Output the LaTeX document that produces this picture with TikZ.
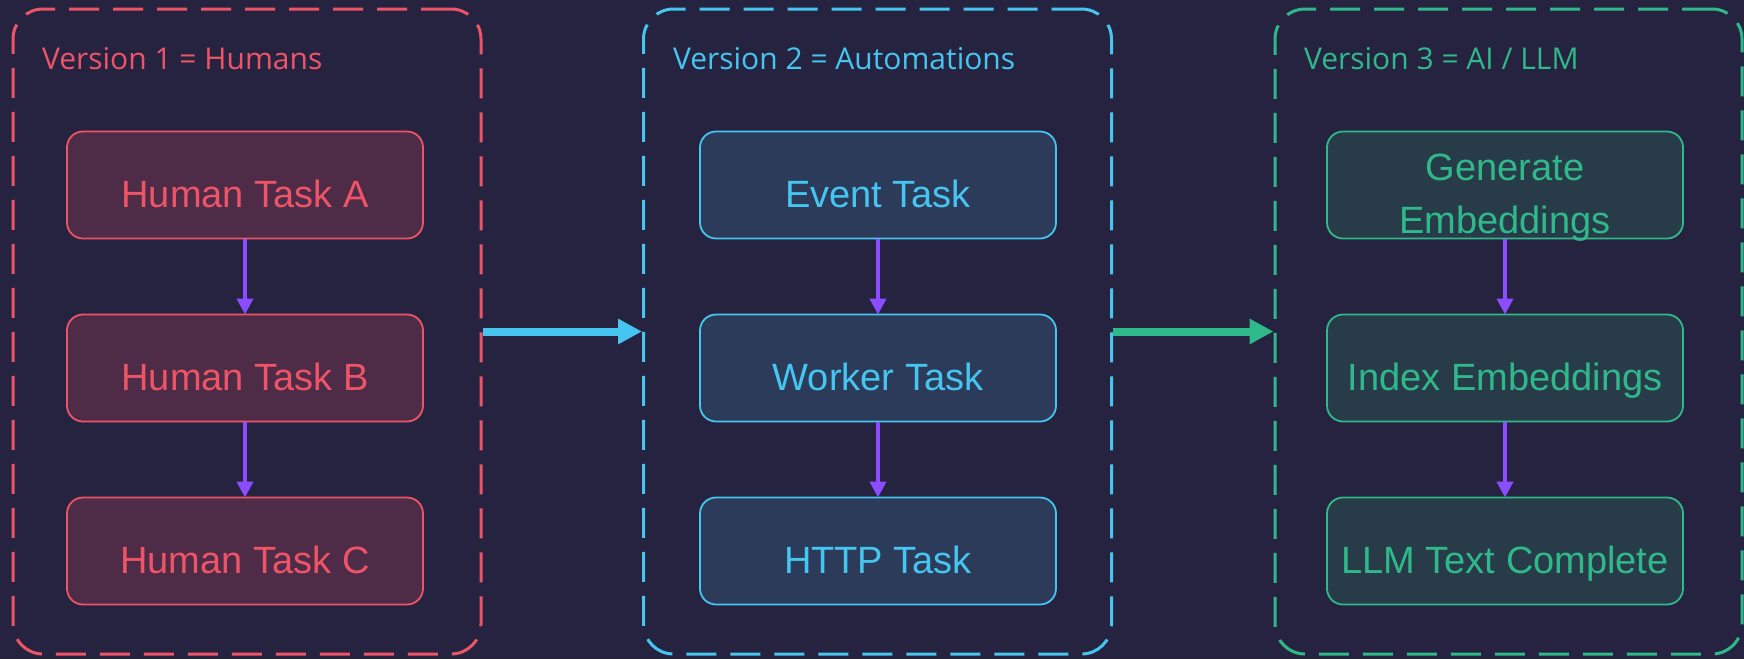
\documentclass[tikz,border=0pt]{standalone}
\usepackage{fontspec}
\setmainfont{Liberation Sans}
\newfontfamily\titlefont{Open Sans}
\usepackage{xcolor}
\definecolor{background}{HTML}{262340}
\definecolor{humanred}{HTML}{EE5467}
\definecolor{humanfill}{HTML}{4E2B46}
\definecolor{autocyan}{HTML}{45C5EF}
\definecolor{autofill}{HTML}{2B3B59}
\definecolor{aigreen}{HTML}{2FB98B}
\definecolor{aifill}{HTML}{283B48}
\definecolor{flowpurple}{HTML}{8B4DFF}
\usepackage{tikz}
\usetikzlibrary{positioning}
\usetikzlibrary{arrows.meta}
\usetikzlibrary{backgrounds}

\tikzset{
    frame/.style={draw=#1,line width=3pt,dash pattern=on 30pt off 14pt,rounded corners=30pt,
        minimum width=468pt,minimum height=645pt,inner sep=0},
    grouptitle/.style={anchor=base west,inner sep=0,outer sep=0,text=#1,font=\titlefont\fontsize{30}{36}\selectfont},
    task/.style={draw=#1,line width=1.8pt,rounded corners=16pt,minimum width=356pt,minimum height=107pt,
        align=center,text=#1,font=\fontsize{38}{53}\selectfont,inner sep=0,outer sep=0,
        text height=44pt,text depth=0pt},
    flow/.style={draw=flowpurple,line width=4pt,-{Triangle[length=16pt,width=16pt]}},
    handoff/.style={draw=#1,line width=8pt,-{Triangle[length=24pt,width=24pt]}}
}

\begin{document}
\begin{tikzpicture}[x=1pt,y=-1pt]
    \fill[background] (0,0) rectangle (1744,659);
    \useasboundingbox (0,0) rectangle (1744,659);
    % version 1
    \node (G1) [frame=humanred] at (247,331.5) {};
    \node (T1) [grouptitle=humanred] at (42,69) {Version 1 = Humans};
    \node (H1) [task=humanred,fill=humanfill] at (245,185) {Human Task A};
    \node (H2) [task=humanred,fill=humanfill,below=76pt of H1] {Human Task B};
    \node (H3) [task=humanred,fill=humanfill,below=76pt of H2] {Human Task C};
    % version 2
    \node (G2) [frame=autocyan] at (877.5,331.5) {};
    \node (T2) [grouptitle=autocyan] at (673,69) {Version 2 = Automations};
    \node (A1) [task=autocyan,fill=autofill] at (878,185) {Event Task};
    \node (A2) [task=autocyan,fill=autofill,below=76pt of A1] {Worker Task};
    \node (A3) [task=autocyan,fill=autofill,below=76pt of A2] {HTTP Task};
    % version 3
    \node (G3) [frame=aigreen,minimum width=467pt] at (1508.5,331.5) {};
    \node (T3) [grouptitle=aigreen] at (1304,69) {Version 3 = AI / LLM};
    \node (L1) [task=aigreen,fill=aifill,text height=96pt] at (1505,185) {Generate\\Embeddings};
    \node (L2) [task=aigreen,fill=aifill,below=76pt of L1] {Index Embeddings};
    \node (L3) [task=aigreen,fill=aifill,below=76pt of L2] {LLM Text Complete};
    \draw[flow] (H1) -- (H2);
    \draw[flow] (H2) -- (H3);
    \draw[flow] (A1) -- (A2);
    \draw[flow] (A2) -- (A3);
    \draw[flow] (L1) -- (L2);
    \draw[flow] (L2) -- (L3);
    \draw[handoff=autocyan] (G1.east) -- (G2.west);
    \draw[handoff=aigreen] (G2.east) -- (G3.west);
\end{tikzpicture}
\end{document}
